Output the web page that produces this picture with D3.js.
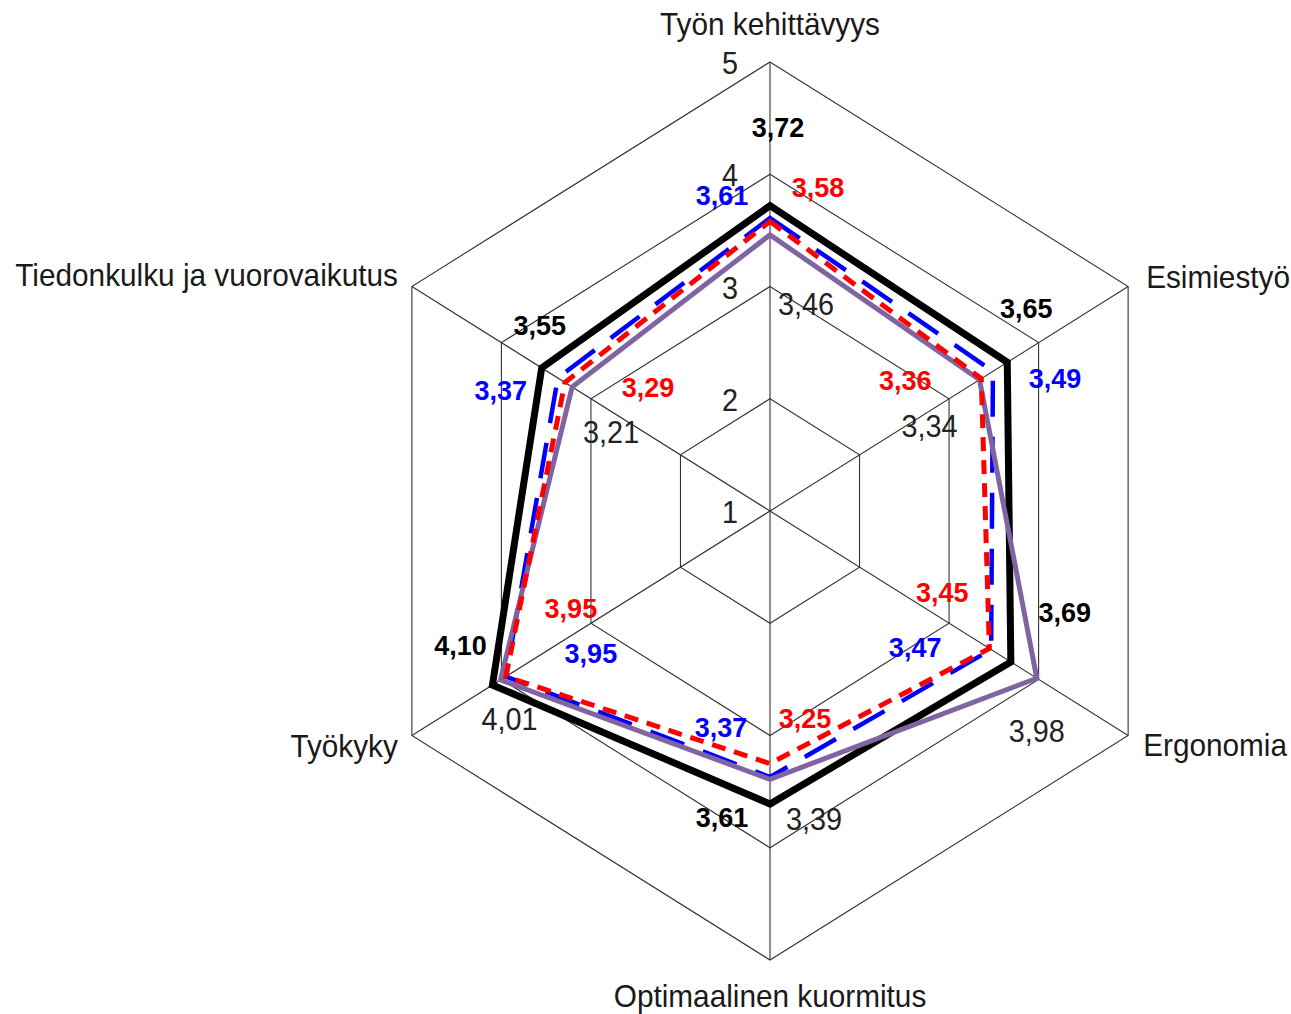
<!DOCTYPE html>
<html>
<head>
<meta charset="utf-8">
<script src="https://cdn.jsdelivr.net/npm/d3@7"></script>
<style>
  html, body { margin: 0; padding: 0; background: #fff; }
  svg { display: block; }
  text { font-family: "Liberation Sans", Arial, sans-serif; }
</style>
</head>
<body>
<svg id="chart" width="1291" height="1014"></svg>
<script>
// ---------- data ----------
const categories = ["Työn kehittävyys", "Esimiestyö", "Ergonomia", "Optimaalinen kuormitus", "Työkyky", "Tiedonkulku ja vuorovaikutus"];
const ringTicks = [1, 2, 3, 4, 5];
const seriesBlack  = [3.72, 3.65, 3.69, 3.61, 4.10, 3.55];
const seriesBlue   = [3.61, 3.49, 3.47, 3.37, 3.95, 3.37];
const seriesRed    = [3.58, 3.36, 3.45, 3.25, 3.95, 3.29];
const seriesPurple = [3.46, 3.34, 3.98, 3.39, 4.01, 3.21];

// ---------- layout / style ----------
const cx = 770, cy = 511;
const kx = 0.921;               // horizontal squash of the original picture
const r = d3.scaleLinear().domain([1, 5]).range([0, 449]);
const angle = d3.scaleLinear().domain([0, categories.length]).range([0, 2 * Math.PI]);

function pt(i, v) {
  const a = angle(i);
  return [cx + Math.sin(a) * r(v) * kx, cy - Math.cos(a) * r(v)];
}

const svg = d3.select("#chart");
const fmt = v => d3.format(".2f")(v).replace(".", ",");

// grid rings
const gGrid = svg.append("g");
ringTicks.slice(1).forEach(t => {
  const pts = categories.map((c, i) => pt(i, t));
  gGrid.append("path")
    .attr("d", d3.line()(pts) + "Z")
    .attr("fill", "none")
    .attr("stroke", "#333")
    .attr("stroke-width", 1.1);
});
// spokes
categories.forEach((c, i) => {
  const [x, y] = pt(i, 5);
  gGrid.append("line")
    .attr("x1", cx).attr("y1", cy).attr("x2", x).attr("y2", y)
    .attr("stroke", "#333").attr("stroke-width", 1.1);
});

// ring tick labels (on the top axis)
ringTicks.forEach(t => {
  const [x, y] = pt(0, t);
  svg.append("text")
    .attr("transform", `translate(${x - 32},${y + 12}) scale(0.9,1)`)
    .attr("text-anchor", "end")
    .attr("font-size", 32)
    .attr("fill", "#222")
    .text(t);
});

// category labels
const catOffsets = [[0, -27, "middle"], [18, 1, "start"], [15, 20, "start"], [0, 47, "middle"], [-14, 21, "end"], [-14, -1, "end"]];
categories.forEach((c, i) => {
  const [x, y] = pt(i, 5);
  const o = catOffsets[i];
  svg.append("text")
    .attr("transform", `translate(${x + o[0]},${y + o[1]}) scale(0.93,1)`)
    .attr("text-anchor", o[2])
    .attr("font-size", 32)
    .attr("fill", "#1a1a1a")
    .text(c);
});

// series
const series = [
  { values: seriesBlack,  stroke: "#000000", width: 7,   dash: null,    text: "#000000", bold: true,
    off: [[8, -69], [19, -44], [54, -40], [-48, 23], [-32, -30], [-2, -33]] },
  { values: seriesBlue,   stroke: "#0000FF", width: 4.5, dash: "36,20", text: "#0000FF", bold: true,
    off: [[-48, -13], [62, 17], [-76, 7], [-49, -40], [85, -14], [-57, 22]] },
  { values: seriesPurple, stroke: "#8064A2", width: 5,   dash: null,    text: "#222222", bold: false,
    off: [[36, 80], [-50, 57], [0, 64], [44, 51], [9, 50], [39, 56]] },
  { values: seriesRed,    stroke: "#FF0000", width: 5,   dash: "14,9",  text: "#FF0000", bold: true,
    off: [[48, -24], [-76, 11], [-47, -47], [35, -36], [65, -59], [83, 15]] }
];

const line = d3.line().curve(d3.curveLinearClosed);
series.forEach(s => {
  const pts = s.values.map((v, i) => pt(i, v));
  svg.append("path")
    .attr("d", line(pts))
    .attr("fill", "none")
    .attr("stroke", s.stroke)
    .attr("stroke-width", s.width)
    .attr("stroke-linejoin", "miter")
    .attr("stroke-dasharray", s.dash);
});

// value labels
series.forEach(s => {
  s.values.forEach((v, i) => {
    const [x, y] = pt(i, v);
    const o = s.off[i];
    const t = svg.append("text")
      .attr("text-anchor", "middle")
      .attr("fill", s.text)
      .text(fmt(v));
    if (s.bold) {
      t.attr("x", x + o[0]).attr("y", y + o[1])
       .attr("font-size", 27).attr("font-weight", "bold");
    } else {
      t.attr("transform", `translate(${x + o[0]},${y + o[1]}) scale(0.9,1)`)
       .attr("font-size", 32);
    }
  });
});
</script>
</body>
</html>
